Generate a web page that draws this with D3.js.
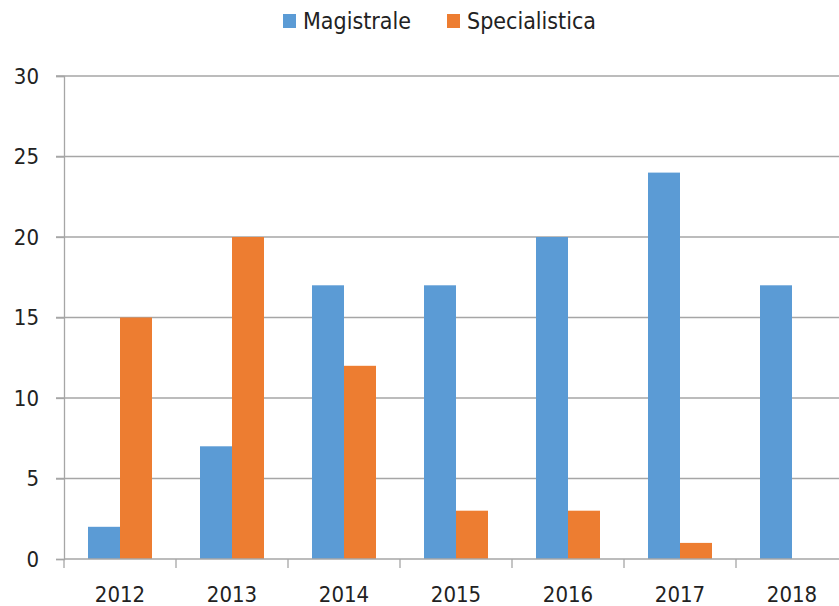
<!doctype html>
<html>
<head>
<meta charset="utf-8">
<script src="https://cdn.jsdelivr.net/npm/d3@7"></script>
<style>
  body { margin: 0; background: #fff; }
  text { font-family: "DejaVu Sans Condensed", "Liberation Sans Narrow", "Liberation Sans", sans-serif; fill: #222; }
</style>
</head>
<body>
<div id="chart"></div>
<script>
// values
var years = ["2012", "2013", "2014", "2015", "2016", "2017", "2018"];
var magistrale = [2, 7, 17, 17, 20, 24, 17];
var specialistica = [15, 20, 12, 3, 3, 1, 0];
var seriesNames = ["Magistrale", "Specialistica"];
var yTicks = [0, 5, 10, 15, 20, 25, 30];

var colors = { "Magistrale": "#5B9BD5", "Specialistica": "#ED7D31" };

var width = 839, height = 606;
var marginLeft = 64, marginTop = 76, plotH = 483;

var svg = d3.select("#chart").append("svg")
  .attr("width", width).attr("height", height);

var rows = years.map(function(y, i) {
  return { year: y, Magistrale: magistrale[i], Specialistica: specialistica[i] };
});

var x0 = d3.scaleBand().domain(years)
  .range([marginLeft, marginLeft + 7 * 112])
  .paddingInner(0.4286).paddingOuter(0.2143);
var x1 = d3.scaleBand().domain(seriesNames).range([0, x0.bandwidth()]);
var y = d3.scaleLinear().domain([0, 30]).range([marginTop + plotH, marginTop]);

// gridlines
svg.append("g").selectAll("line").data(yTicks.slice(1)).enter().append("line")
  .attr("x1", marginLeft - 8).attr("x2", width)
  .attr("y1", function(d) { return y(d); }).attr("y2", function(d) { return y(d); })
  .attr("stroke", "#a6a6a6").attr("stroke-width", 1.3);

// y axis
var yAxis = svg.append("g").attr("transform", "translate(" + marginLeft + ",0)")
  .call(d3.axisLeft(y).tickValues(yTicks).tickSize(8).tickPadding(17));
yAxis.select(".domain").attr("stroke", "#a6a6a6").attr("stroke-width", 1.3);
yAxis.selectAll(".tick line").attr("stroke", "#a6a6a6").attr("stroke-width", 1.3);
yAxis.selectAll("text").attr("font-size", 22).attr("fill", "#222")
  .attr("font-family", "'DejaVu Sans Condensed', sans-serif");

// bars
var groups = svg.append("g").selectAll("g").data(rows).enter().append("g")
  .attr("transform", function(d) { return "translate(" + x0(d.year) + ",0)"; });
groups.selectAll("rect")
  .data(function(d) { return seriesNames.map(function(k) { return { key: k, value: d[k] }; }); })
  .enter().append("rect")
  .attr("x", function(d) { return x1(d.key); })
  .attr("width", x1.bandwidth())
  .attr("y", function(d) { return y(d.value); })
  .attr("height", function(d) { return y(0) - y(d.value); })
  .attr("fill", function(d) { return colors[d.key]; });

// x axis with ticks between categories
var xAxis = svg.append("g").attr("transform", "translate(0," + y(0) + ")");
xAxis.append("line").attr("x1", marginLeft).attr("x2", width)
  .attr("stroke", "#a6a6a6").attr("stroke-width", 1.3);
xAxis.selectAll(".sep").data(years).enter().append("line")
  .attr("x1", function(d) { return x0(d) - x0.step() * 0.2143; })
  .attr("x2", function(d) { return x0(d) - x0.step() * 0.2143; })
  .attr("y1", 0).attr("y2", 9)
  .attr("stroke", "#a6a6a6").attr("stroke-width", 1.3);
xAxis.selectAll("text").data(years).enter().append("text")
  .attr("x", function(d) { return x0(d) + x0.bandwidth() / 2; })
  .attr("y", 43)
  .attr("text-anchor", "middle")
  .attr("font-size", 22)
  .text(function(d) { return d; });

// legend
var legend = svg.append("g");
var legendX = [283, 447];
seriesNames.forEach(function(name, i) {
  legend.append("rect").attr("x", legendX[i]).attr("y", 14)
    .attr("width", 13).attr("height", 14).attr("fill", colors[name]);
  legend.append("text").attr("x", legendX[i] + 20).attr("y", 29)
    .attr("font-size", 23).text(name);
});
</script>
</body>
</html>
